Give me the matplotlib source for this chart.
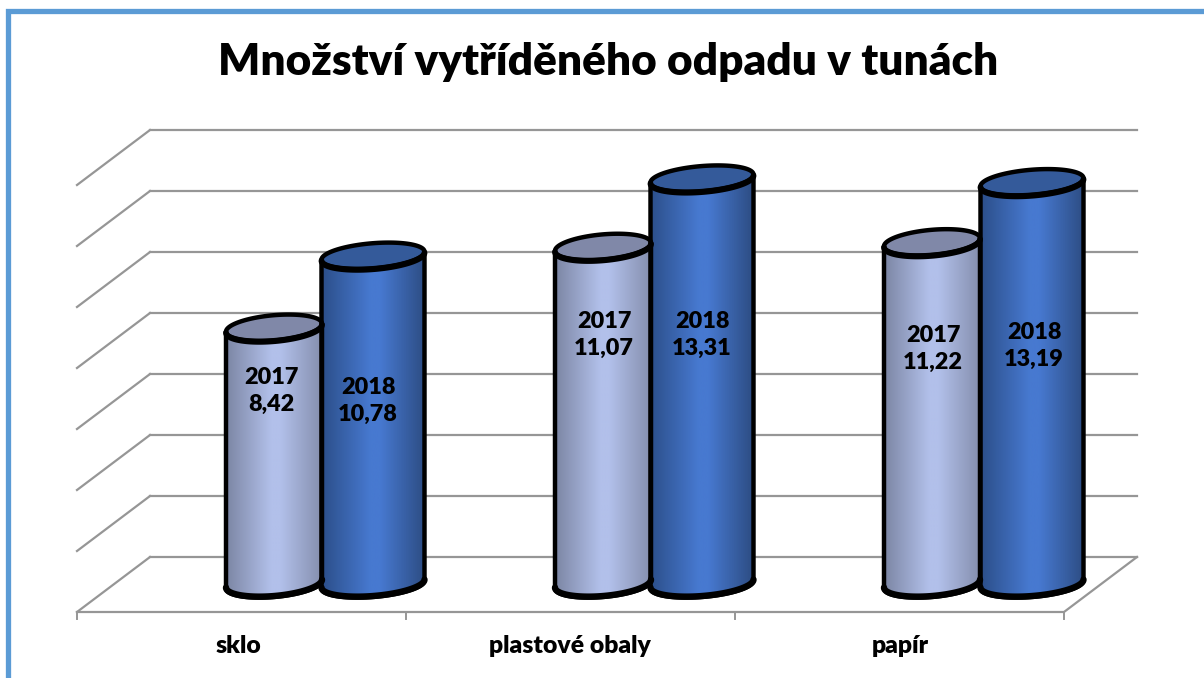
import matplotlib
matplotlib.use('Agg')
import matplotlib.pyplot as plt
import numpy as np
from matplotlib.colors import LinearSegmentedColormap
from matplotlib.patches import Polygon, Rectangle

categories = ['sklo', 'plastové obaly', 'papír']
years = ['2017', '2018']
values_2017 = [8.42, 11.07, 11.22]
values_2018 = [10.78, 13.31, 13.19]
grid_values = [0, 2, 4, 6, 8, 10, 12, 14]

W, H = 1204, 678
X0, Y0 = 77, 612        # front left corner of the floor, pixels
CAT_W = 329             # pixels per category
UNIT_H = 30.5           # pixels per value unit
DEPTH_X = 73 / CAT_W    # 3D depth in data units
DEPTH_Y = 55 / UNIT_H
GRAY = '#969696'

plt.rcParams['font.family'] = ['Lato', 'DejaVu Sans']
plt.rcParams['font.weight'] = 'heavy'


def px_x(x):
    return (x - X0) / CAT_W


def px_y(y):
    return (Y0 - y) / UNIT_H


fig = plt.figure(figsize=(W / 100, H / 100), dpi=100)
ax = fig.add_axes([0, 0, 1, 1])
ax.set_xlim(px_x(0), px_x(W))
ax.set_ylim(px_y(H), px_y(0))
ax.axis('off')

# frame of the chart, only left and top are in the picture
ax.add_patch(Rectangle((px_x(7.5), px_y(H + 20)), (W + 40) / CAT_W, (H + 9.5) / UNIT_H,
                       fc='none', ec='#5B9BD5', lw=3.8, zorder=10))

# back wall and left wall
for v in grid_values:
    ax.plot([DEPTH_X, 3 + DEPTH_X], [v + DEPTH_Y, v + DEPTH_Y], color=GRAY, lw=1.6, zorder=1)
    ax.plot([0, DEPTH_X], [v, v + DEPTH_Y], color=GRAY, lw=1.6, zorder=1)

# floor front and right edge with ticks
ax.plot([0, 3, 3 + DEPTH_X], [0, 0, DEPTH_Y], color=GRAY, lw=1.6, zorder=1)
for i in range(len(categories) + 1):
    ax.plot([i, i], [0, px_y(619)], color=GRAY, lw=1.4, zorder=1)


def cylinder(cx_px, width_px, value, edge_c, mid_c, edge_r, top_c):
    cx = px_x(cx_px)
    a = width_px / 2 / CAT_W
    b = 12.5 / UNIT_H
    tilt = 4 / UNIT_H
    y0 = DEPTH_Y / 2
    y1 = y0 + value

    t = np.linspace(np.pi, 2 * np.pi, 60)
    low_x = cx + a * np.cos(t)
    low_off = tilt * np.cos(t) + b * np.sin(t)

    # body: left side, lower arc, right side, lower arc of the top
    xs = np.concatenate([low_x, low_x[::-1]])
    ys = np.concatenate([y0 + low_off, y1 + low_off[::-1]])
    body = Polygon(np.column_stack([xs, ys]), closed=True, fc='none', ec='black',
                   lw=3.2, joinstyle='round', zorder=3)
    ax.add_patch(body)

    cmap = LinearSegmentedColormap.from_list('bar', [edge_c, mid_c, mid_c, edge_r],
                                             N=256)
    grad = np.linspace(0, 1, 256).reshape(1, -1)
    grad = np.interp(grad, [0, 0.48, 0.56, 1], [0, 0.34, 0.66, 1])
    im = ax.imshow(grad, cmap=cmap, vmin=0, vmax=1, aspect='auto', zorder=2.5,
                   extent=[cx - a, cx + a, y0 - b * 1.2, y1 + b * 1.2])
    im.set_clip_path(body)

    # bottom arc is drawn heavier
    ax.plot(low_x, y0 + low_off + 1 / UNIT_H, color='black', lw=4.6, zorder=3,
            solid_capstyle='round')

    # top ellipse, front edge heavier
    t = np.linspace(0, 2 * np.pi, 120)
    tx = cx + a * np.cos(t)
    ty = y1 + tilt * np.cos(t) + b * np.sin(t)
    ax.add_patch(Polygon(np.column_stack([tx, ty]), closed=True, fc=top_c, ec='black',
                         lw=3.2, zorder=3))
    ax.plot(low_x, y1 + low_off - 1 / UNIT_H, color='black', lw=4.2, zorder=3,
            solid_capstyle='round')


centers_2017 = [274, 603, 932]
centers_2018 = [373, 702, 1032]
for i in range(len(categories)):
    cylinder(centers_2017[i], 96, values_2017[i], '#7C86A4', '#B2C0EA', '#858FAE', '#8088A8')
    cylinder(centers_2018[i], 103, values_2018[i], '#2C4F8A', '#4779D0', '#2D4D84', '#345A9A')

# data labels
label_pos_2017 = [(271, 391), (604, 335), (933, 349)]
label_pos_2018 = [(368, 401), (702, 335), (1034, 346)]
for pos, vals, year in [(label_pos_2017, values_2017, years[0]),
                        (label_pos_2018, values_2018, years[1])]:
    for (x, y), v in zip(pos, vals):
        txt = f'{year}\n{v:.2f}'.replace('.', ',')
        ax.text(px_x(x), px_y(y), txt, ha='center', va='center', fontsize=16.8,
                linespacing=1.38, color='black', zorder=5)

# category labels
label_x = [238, 570, 900]
for x, name in zip(label_x, categories):
    ax.text(px_x(x), px_y(646), name, ha='center', va='center', fontsize=17.8, color='black')

ax.text(px_x(608), px_y(62), 'Množství vytříděného odpadu v tunách', ha='center', va='center',
        fontsize=31.8, color='black')

fig.savefig('out.png', dpi=100)
